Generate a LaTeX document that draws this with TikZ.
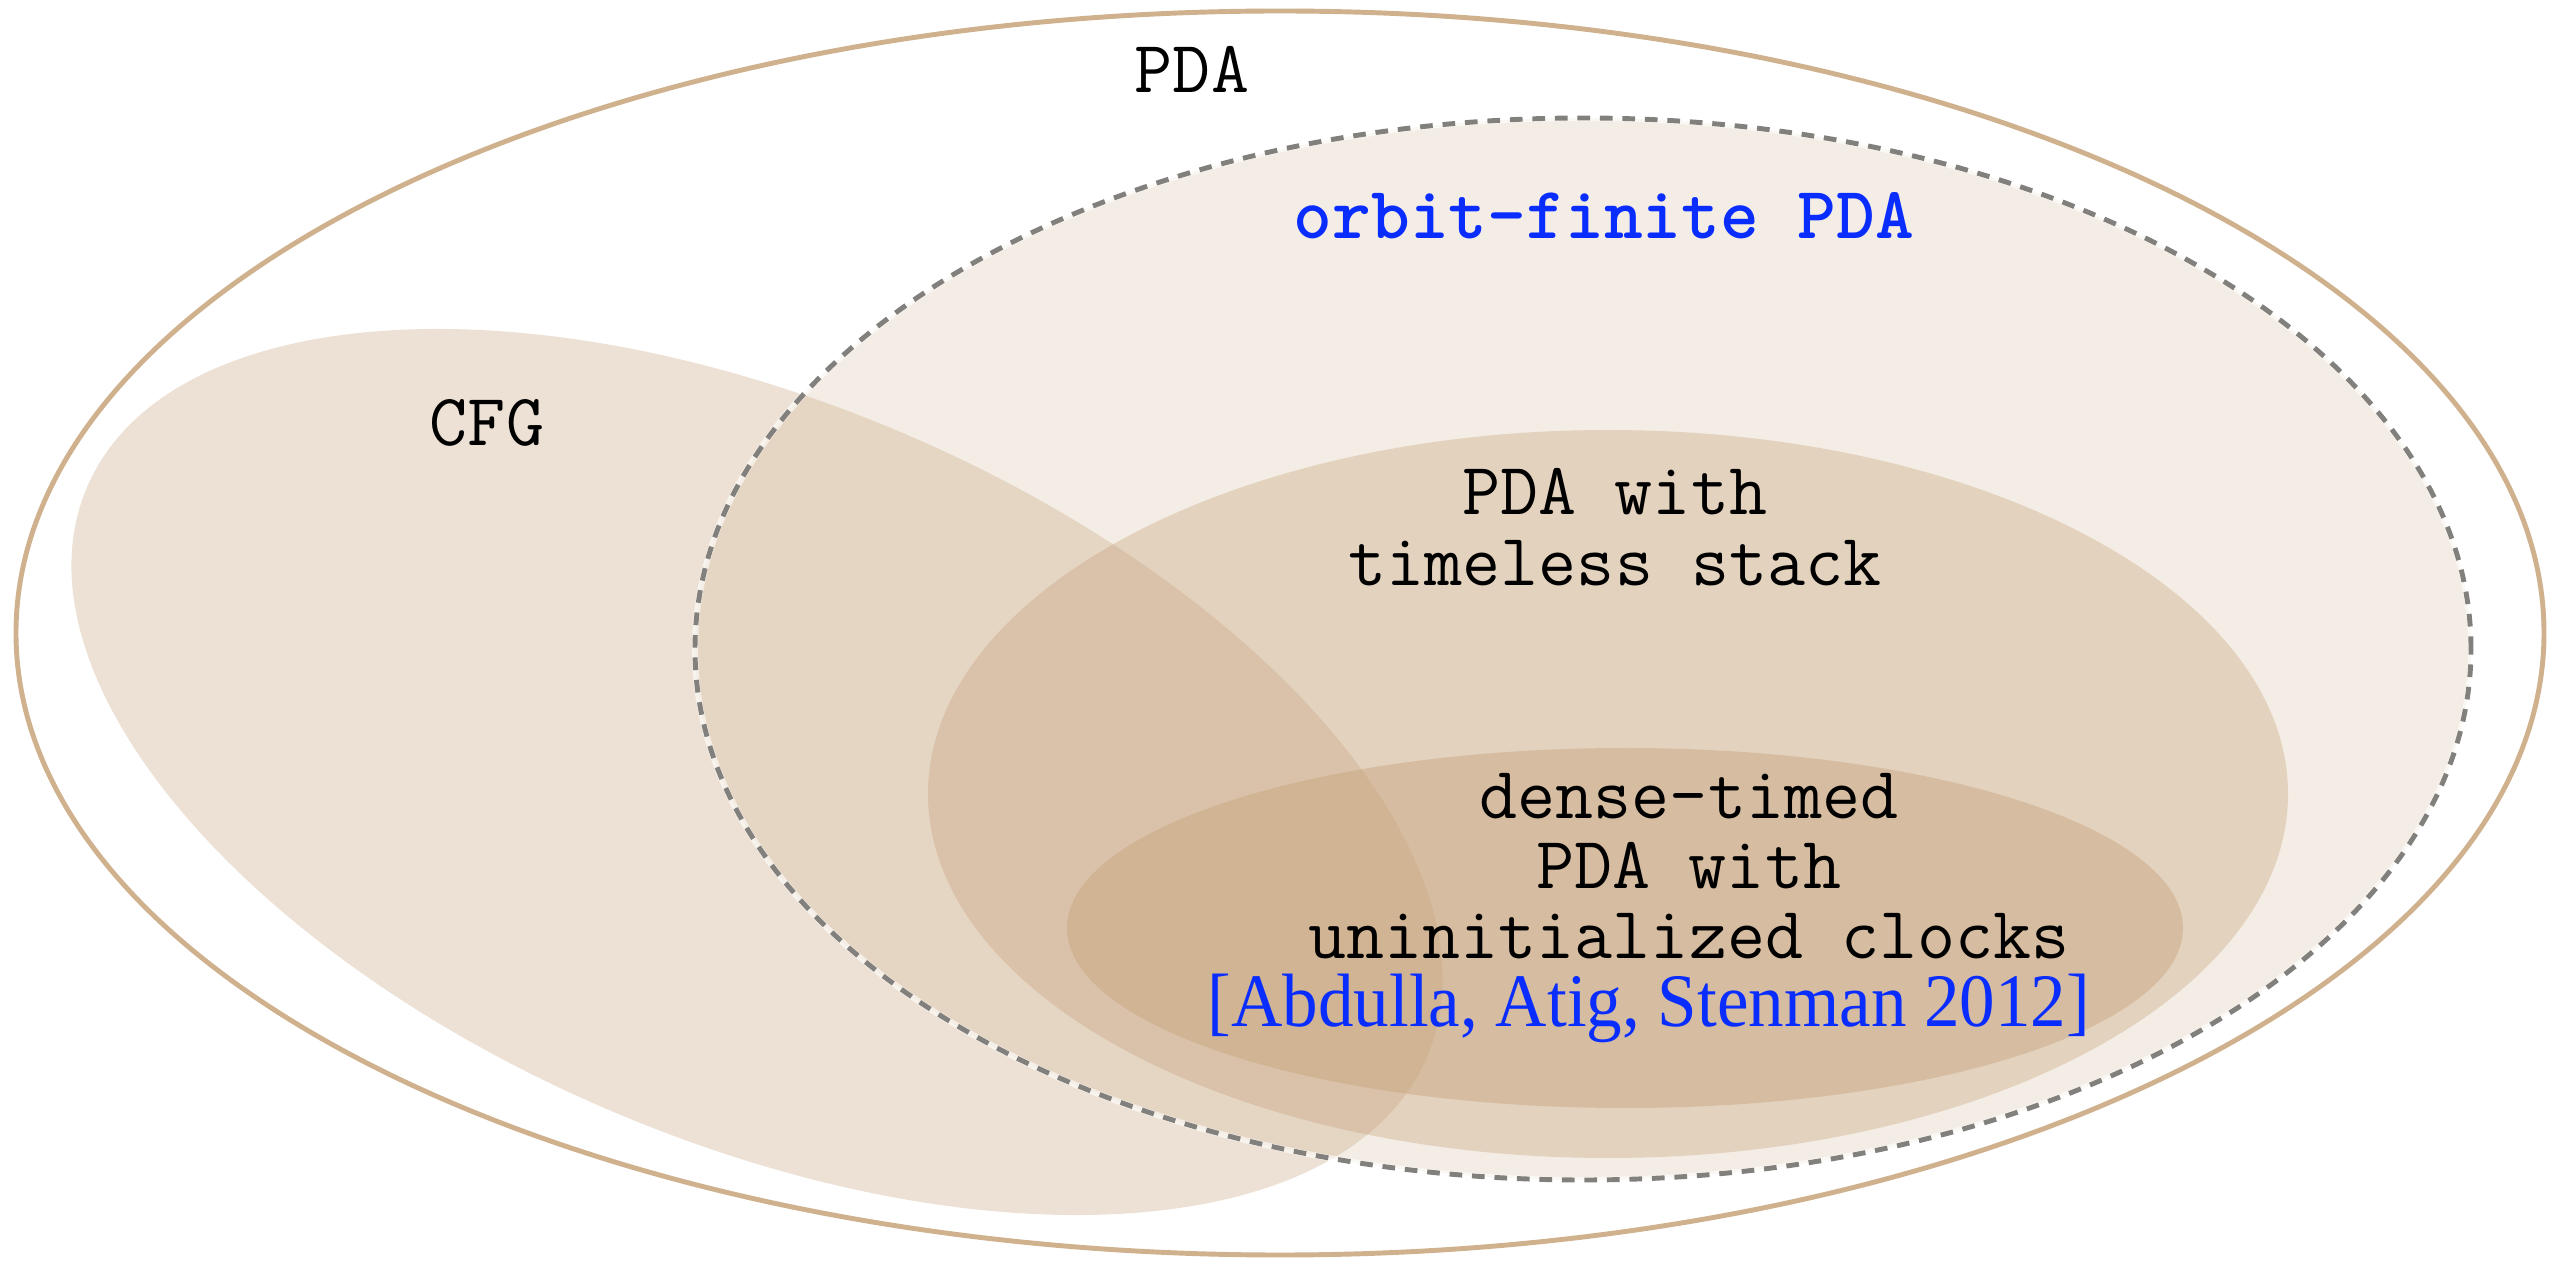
\documentclass[tikz,border=0pt]{standalone}
\usepackage{fontspec}
\newfontfamily\citefont[FakeStretch=0.94]{Liberation Serif}
\definecolor{setbase}{RGB}{198,163,124}
\definecolor{pdaline}{RGB}{208,177,142}
\definecolor{dashgray}{RGB}{130,128,125}
\definecolor{linkblue}{RGB}{10,45,255}
\begin{document}
\begin{tikzpicture}[x=0.01cm,y=0.01cm,
  label/.style={font=\ttfamily\fontsize{21}{20}\selectfont, align=center, inner sep=0pt},
  setfill/.style={fill=setbase, fill opacity=#1, draw=none}]
\useasboundingbox (0,0) rectangle (2563,1260);

% outermost class: all PDA
\draw[pdaline, line width=1.4pt] (1280,627) ellipse [x radius=1264, y radius=622];

% orbit-finite PDA (fill only, outline drawn last)
\fill[setfill=0.2] (1583,611) ellipse [x radius=888, y radius=531];

% context-free grammars, tilted
\fill[setfill=0.32, rotate around={-23:(757,488)}] (757,488) ellipse [x radius=728, y radius=369];

% PDA with timeless stack
\fill[setfill=0.37] (1608,466) ellipse [x radius=680, y radius=364];

% dense-timed PDA with uninitialized clocks
\fill[setfill=0.46] (1625,332) ellipse [x radius=558, y radius=180];

% dashed outline of the orbit-finite class
\draw[white, opacity=0.6, line width=1.7pt] (1583,611) ellipse [x radius=888, y radius=531];
\draw[dashgray, line width=1.4pt, dash pattern=on 3.6pt off 2.8pt] (1583,611) ellipse [x radius=888, y radius=531];

% labels
\node[label] (pda) at (1192,1191) {PDA};
\node[label, text=linkblue, font=\ttfamily\bfseries\fontsize{21}{20}\selectfont] (orbit) at (1604,1044) {orbit-finite PDA};
\node[label] (cfg) at (487,837) {CFG};
\node[label] (timeless) at (1615,733) {PDA with\\timeless stack};
\node[label] (dense) at (1689,394) {dense-timed\\PDA with\\uninitialized clocks};
\node[inner sep=0pt, text=linkblue, font=\citefont\fontsize{21.5}{24}\selectfont] (cite) at (1649,252) {[Abdulla, Atig, Stenman 2012]};
\end{tikzpicture}
\end{document}
